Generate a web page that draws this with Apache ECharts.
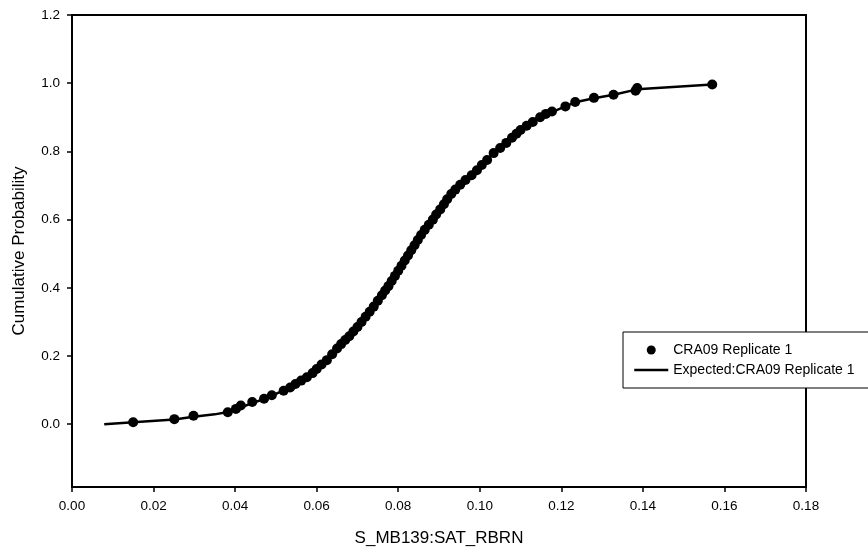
<!DOCTYPE html>
<html>
<head>
<meta charset="utf-8">
<script src="https://cdn.jsdelivr.net/npm/echarts@6/dist/echarts.min.js"></script>
<style>
html,body{margin:0;padding:0;background:#fff;}
#chart{width:868px;height:552px;}
</style>
</head>
<body>
<div id="chart"></div>
<script>
// Observed data (CRA09 Replicate 1)
const obsX = [0.0150,0.0251,0.0298,0.0382,0.0402,0.0414,0.0442,0.0471,0.0490,0.0519,0.0535,0.0548,0.0562,0.0576,0.0590,0.0600,0.0612,0.0625,0.0638,0.0650,0.0660,0.0670,0.0680,0.0690,0.0700,0.0710,0.0720,0.0730,0.0740,0.0750,0.0760,0.0768,0.0776,0.0784,0.0792,0.0800,0.0808,0.0816,0.0824,0.0832,0.0840,0.0848,0.0856,0.0865,0.0875,0.0885,0.0893,0.0903,0.0912,0.0920,0.0930,0.0940,0.0952,0.0965,0.0980,0.0993,0.1005,0.1018,0.1034,0.1050,0.1065,0.1079,0.1090,0.1100,0.1115,0.1130,0.1148,0.1162,0.1177,0.1210,0.1234,0.1280,0.1328,0.1382,0.1386,0.1570];
const obsY = [0.006,0.015,0.025,0.035,0.045,0.055,0.065,0.075,0.085,0.098,0.108,0.118,0.128,0.138,0.150,0.162,0.175,0.188,0.205,0.222,0.235,0.247,0.258,0.272,0.285,0.300,0.315,0.330,0.345,0.362,0.378,0.392,0.405,0.420,0.435,0.450,0.465,0.480,0.495,0.510,0.525,0.540,0.555,0.570,0.585,0.600,0.615,0.630,0.645,0.660,0.675,0.688,0.702,0.716,0.730,0.745,0.760,0.775,0.795,0.810,0.825,0.840,0.852,0.863,0.875,0.886,0.900,0.910,0.917,0.932,0.945,0.957,0.966,0.978,0.986,0.996];

// Expected curve
const expX = [0.0079,0.0150,0.0251,0.0298,0.0350,0.0382,0.0402,0.0442,0.0471,0.0490,0.0519,0.0545,0.0576,0.0600,0.0625,0.0650,0.0684,0.0731,0.0776,0.0829,0.0883,0.0940,0.0993,0.1034,0.1079,0.1100,0.1148,0.1177,0.1210,0.1234,0.1280,0.1328,0.1386,0.1570];
const expY = [0.000,0.006,0.014,0.022,0.029,0.036,0.044,0.062,0.074,0.084,0.099,0.117,0.138,0.162,0.188,0.222,0.262,0.335,0.420,0.510,0.600,0.680,0.745,0.795,0.840,0.862,0.900,0.915,0.932,0.944,0.956,0.966,0.982,0.996];

const yTicks = [0.0,0.2,0.4,0.6,0.8,1.0,1.2];
const xTicks = [0.00,0.02,0.04,0.06,0.08,0.10,0.12,0.14,0.16,0.18];

const seriesNames = ['CRA09 Replicate 1','Expected:CRA09 Replicate 1'];
const axisNames = {x:'S_MB139:SAT_RBRN', y:'Cumulative Probability'};

const FONT = 'Liberation Sans, Arial, Helvetica, sans-serif';
const chart = echarts.init(document.getElementById('chart'), null, {renderer:'canvas'});

chart.setOption({
  animation:false,
  backgroundColor:'#fff',
  grid:{left:72,right:62,top:15,bottom:65,show:true,borderColor:'#000',borderWidth:2,backgroundColor:'transparent',containLabel:false},
  legend:{
    left:623, top:332,
    orient:'vertical',
    backgroundColor:'#fff',
    borderColor:'#000', borderWidth:1,
    borderRadius:0,
    padding:[11,30,11,10],
    itemWidth:34, itemHeight:9, itemGap:6, itemTextGap:6,
    textStyle:{fontFamily:FONT,fontSize:14,color:'#000',lineHeight:14},
    data:[
      {name:seriesNames[0],icon:'circle',itemStyle:{color:'#000',opacity:1}},
      {name:seriesNames[1],itemStyle:{opacity:0},lineStyle:{color:'#000',width:2.5,opacity:1}}
    ]
  },
  xAxis:{
    type:'value', min:xTicks[0], max:xTicks[xTicks.length-1], interval:0.02,
    name:axisNames.x, nameLocation:'middle', nameGap:43,
    nameTextStyle:{fontFamily:FONT,fontSize:17,color:'#000'},
    axisLine:{show:true,onZero:false,lineStyle:{color:'#000',width:2}},
    axisTick:{show:true,inside:false,length:5,lineStyle:{color:'#000',width:1.5}},
    axisLabel:{fontFamily:FONT,fontSize:13.5,color:'#000',margin:12,formatter:v=>v.toFixed(2)},
    splitLine:{show:false}
  },
  yAxis:{
    type:'value', min:-0.184, max:1.2,
    name:axisNames.y, nameLocation:'middle', nameGap:44, nameRotate:90,
    nameTextStyle:{fontFamily:FONT,fontSize:17,color:'#000'},
    axisLine:{show:true,onZero:false,lineStyle:{color:'#000',width:2}},
    axisTick:{show:true,inside:false,length:5,customValues:yTicks,lineStyle:{color:'#000',width:1.5}},
    axisLabel:{fontFamily:FONT,fontSize:13.5,color:'#000',margin:12,customValues:yTicks,formatter:v=>v.toFixed(1)},
    splitLine:{show:false}
  },
  series:[
    {
      name:seriesNames[1], type:'line',
      data:expX.map((x,i)=>[x,expY[i]]),
      symbol:'none', showSymbol:false, smooth:false,
      lineStyle:{color:'#000',width:2.5},
      itemStyle:{color:'#000'},
      z:2
    },
    {
      name:seriesNames[0], type:'scatter',
      data:obsX.map((x,i)=>[x,obsY[i]]),
      symbol:'circle', symbolSize:10,
      itemStyle:{color:'#000',opacity:1},
      z:3
    }
  ]
});
</script>
</body>
</html>
